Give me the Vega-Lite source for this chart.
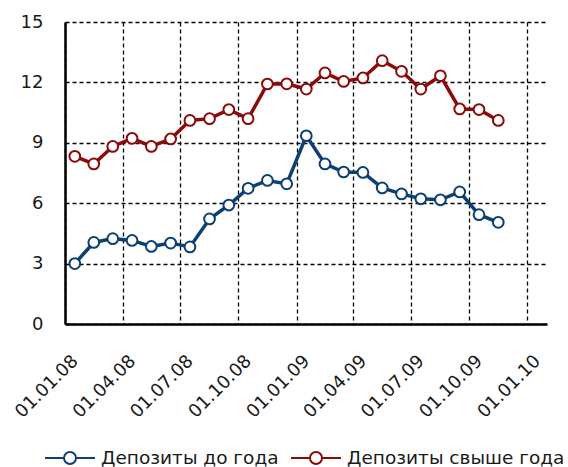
{
  "$schema": "https://vega.github.io/schema/vega-lite/v6.json",
  "width": 482,
  "height": 302,
  "autosize": "none",
  "padding": {"left": 65, "top": 22, "right": 21, "bottom": 143},
  "background": "white",
  "config": {
    "view": {"stroke": null},
    "font": "DejaVu Sans",
    "axis": {"labelFont": "DejaVu Sans", "labelColor": "#1a1a1a", "labelFontSize": 18}
  },
  "data": {
    "values": [
      {"date": "2008-01-01", "series": "Депозиты до года", "value": 3.0},
      {"date": "2008-02-01", "series": "Депозиты до года", "value": 4.05},
      {"date": "2008-03-01", "series": "Депозиты до года", "value": 4.24},
      {"date": "2008-04-01", "series": "Депозиты до года", "value": 4.15},
      {"date": "2008-05-01", "series": "Депозиты до года", "value": 3.85},
      {"date": "2008-06-01", "series": "Депозиты до года", "value": 4.02},
      {"date": "2008-07-01", "series": "Депозиты до года", "value": 3.83},
      {"date": "2008-08-01", "series": "Депозиты до года", "value": 5.22},
      {"date": "2008-09-01", "series": "Депозиты до года", "value": 5.91},
      {"date": "2008-10-01", "series": "Депозиты до года", "value": 6.74},
      {"date": "2008-11-01", "series": "Депозиты до года", "value": 7.13},
      {"date": "2008-12-01", "series": "Депозиты до года", "value": 6.96},
      {"date": "2009-01-01", "series": "Депозиты до года", "value": 9.35},
      {"date": "2009-02-01", "series": "Депозиты до года", "value": 7.95},
      {"date": "2009-03-01", "series": "Депозиты до года", "value": 7.55},
      {"date": "2009-04-01", "series": "Депозиты до года", "value": 7.53},
      {"date": "2009-05-01", "series": "Депозиты до года", "value": 6.76},
      {"date": "2009-06-01", "series": "Депозиты до года", "value": 6.46},
      {"date": "2009-07-01", "series": "Депозиты до года", "value": 6.22},
      {"date": "2009-08-01", "series": "Депозиты до года", "value": 6.17},
      {"date": "2009-09-01", "series": "Депозиты до года", "value": 6.56},
      {"date": "2009-10-01", "series": "Депозиты до года", "value": 5.43},
      {"date": "2009-11-01", "series": "Депозиты до года", "value": 5.05},
      {"date": "2008-01-01", "series": "Депозиты свыше года", "value": 8.33},
      {"date": "2008-02-01", "series": "Депозиты свыше года", "value": 7.95},
      {"date": "2008-03-01", "series": "Депозиты свыше года", "value": 8.82},
      {"date": "2008-04-01", "series": "Депозиты свыше года", "value": 9.22},
      {"date": "2008-05-01", "series": "Депозиты свыше года", "value": 8.82},
      {"date": "2008-06-01", "series": "Депозиты свыше года", "value": 9.19},
      {"date": "2008-07-01", "series": "Депозиты свыше года", "value": 10.11},
      {"date": "2008-08-01", "series": "Депозиты свыше года", "value": 10.2},
      {"date": "2008-09-01", "series": "Депозиты свыше года", "value": 10.65},
      {"date": "2008-10-01", "series": "Депозиты свыше года", "value": 10.2},
      {"date": "2008-11-01", "series": "Депозиты свыше года", "value": 11.92},
      {"date": "2008-12-01", "series": "Депозиты свыше года", "value": 11.93},
      {"date": "2009-01-01", "series": "Депозиты свыше года", "value": 11.67},
      {"date": "2009-02-01", "series": "Депозиты свыше года", "value": 12.47},
      {"date": "2009-03-01", "series": "Депозиты свыше года", "value": 12.05},
      {"date": "2009-04-01", "series": "Депозиты свыше года", "value": 12.22},
      {"date": "2009-05-01", "series": "Депозиты свыше года", "value": 13.08},
      {"date": "2009-06-01", "series": "Депозиты свыше года", "value": 12.55},
      {"date": "2009-07-01", "series": "Депозиты свыше года", "value": 11.67},
      {"date": "2009-08-01", "series": "Депозиты свыше года", "value": 12.33},
      {"date": "2009-09-01", "series": "Депозиты свыше года", "value": 10.68},
      {"date": "2009-10-01", "series": "Депозиты свыше года", "value": 10.65},
      {"date": "2009-11-01", "series": "Депозиты свыше года", "value": 10.11}
    ]
  },
  "encoding": {
    "x": {
      "field": "date",
      "timeUnit": "utcyearmonth",
      "type": "temporal",
      "bandPosition": 0.5,
      "title": null,
      "scale": {
        "domain": [
          {"year": 2008, "month": 1, "date": 1, "utc": true},
          {"year": 2010, "month": 2, "date": 1, "utc": true}
        ]
      },
      "axis": {
        "values": [
          {"year": 2008, "month": 1, "date": 1, "utc": true},
          {"year": 2008, "month": 4, "date": 1, "utc": true},
          {"year": 2008, "month": 7, "date": 1, "utc": true},
          {"year": 2008, "month": 10, "date": 1, "utc": true},
          {"year": 2009, "month": 1, "date": 1, "utc": true},
          {"year": 2009, "month": 4, "date": 1, "utc": true},
          {"year": 2009, "month": 7, "date": 1, "utc": true},
          {"year": 2009, "month": 10, "date": 1, "utc": true},
          {"year": 2010, "month": 1, "date": 1, "utc": true}
        ],
        "format": "%d.%m.%y",
        "labelAngle": -45,
        "labelAlign": "right",
        "labelBaseline": "middle",
        "labelPadding": 34,
        "labelOffset": 10,
        "ticks": false,
        "domainColor": "black",
        "domainWidth": 2.5,
        "grid": true,
        "gridColor": "black",
        "gridDash": [4, 3],
        "gridWidth": 1.3,
        "gridOpacity": 1,
        "labelOverlap": false,
        "labelFlush": false
      }
    },
    "y": {
      "field": "value",
      "type": "quantitative",
      "title": null,
      "scale": {"domain": [0, 15], "nice": false},
      "axis": {
        "values": [0, 3, 6, 9, 12, 15],
        "ticks": false,
        "labelPadding": 22,
        "domainColor": "black",
        "domainWidth": 2.5,
        "gridColor": "black",
        "gridDash": [4, 3],
        "gridWidth": 1.3,
        "gridOpacity": 1,
        "labelFlush": false
      }
    },
    "color": {
      "field": "series",
      "type": "nominal",
      "scale": {"domain": ["Депозиты до года", "Депозиты свыше года"], "range": ["#0c3f72", "#8b0a0a"]},
      "legend": {
        "title": null,
        "orient": "none",
        "legendX": -21,
        "legendY": 410,
        "direction": "horizontal",
        "symbolType": "M-1,0L-0.24,0M0.24,0L1,0M-0.24,0A0.24,0.24,0,1,0,0.24,0A0.24,0.24,0,1,0,-0.24,0Z",
        "symbolSize": 2500,
        "symbolStrokeWidth": 2,
        "symbolFillColor": "white",
        "labelFont": "DejaVu Sans",
        "labelFontSize": 18.5,
        "labelColor": "#1a1a1a",
        "labelLimit": 400,
        "columnPadding": 8,
        "labelOffset": 5
      }
    }
  },
  "layer": [
    {
      "mark": {"type": "line", "strokeWidth": 3.5}
    },
    {
      "mark": {"type": "circle", "filled": false, "fill": "white", "fillOpacity": 1, "size": 115, "strokeWidth": 2, "opacity": 1}
    }
  ]
}
